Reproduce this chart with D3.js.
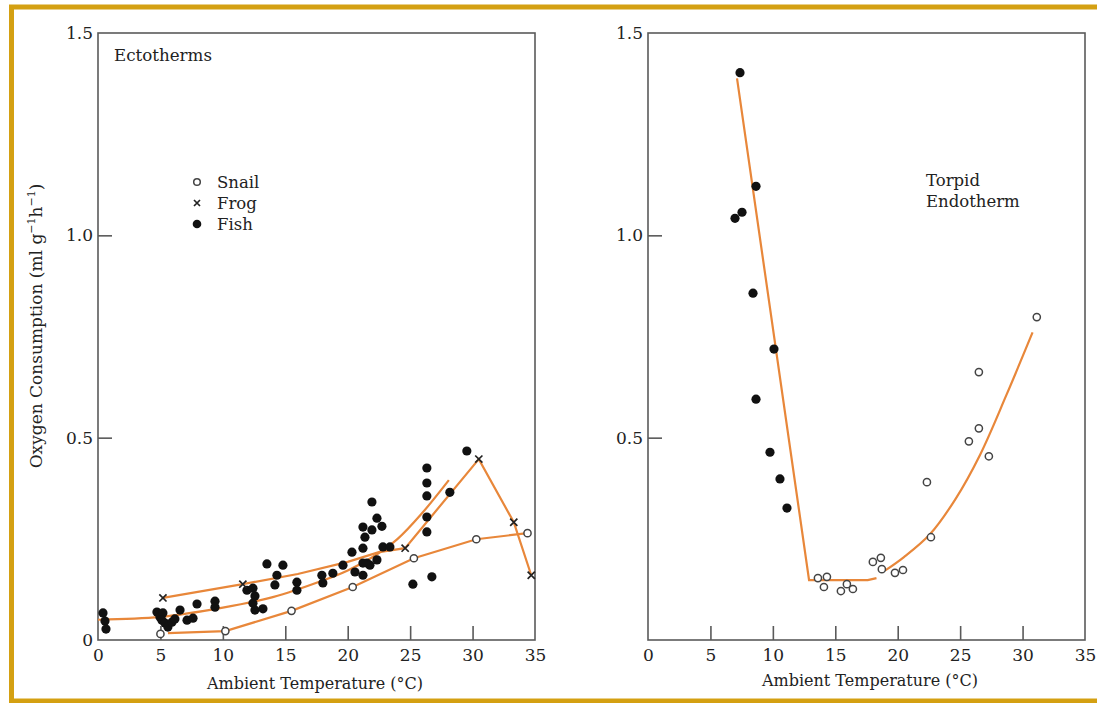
<!DOCTYPE html>
<html><head><meta charset="utf-8">
<script src="https://cdn.jsdelivr.net/npm/d3@7"></script>
<style>
html,body{margin:0;padding:0;background:#fff;}
svg{display:block;}
text{font-family:"DejaVu Serif","Liberation Serif",serif;fill:#222;}
</style></head>
<body>
<svg id="c" width="1097" height="703"></svg>
<script>
// ---------- data ----------
const xTicks = [0,5,10,15,20,25,30,35];
const yTicksLeft = [0,0.5,1.0,1.5];
const yTicksRight = [0.5,1.0,1.5];

// Left panel (ectotherms): [temperature, O2 consumption]
const snail = [[5.0,0.015],[10.2,0.022],[15.5,0.072],[20.4,0.131],[25.3,0.202],[30.3,0.249],[34.4,0.264]];
const frog  = [[5.2,0.104],[11.6,0.138],[24.6,0.227],[30.5,0.447],[33.3,0.291],[34.7,0.160]];
const fish  = [[0.4,0.067],[0.56,0.047],[0.64,0.027],[4.72,0.069],[4.96,0.057],[5.2,0.067],[5.12,0.049],
  [5.36,0.042],[5.6,0.032],[5.92,0.044],[6.16,0.052],[6.57,0.074],[7.13,0.049],[7.61,0.054],[7.93,0.089],
  [9.37,0.096],[9.37,0.081],[11.93,0.123],[12.41,0.128],[12.57,0.109],[12.41,0.091],[12.57,0.074],[13.21,0.077],
  [13.53,0.188],[14.81,0.185],[14.33,0.160],[14.17,0.136],[15.93,0.143],[15.93,0.123],[17.93,0.160],[18.01,0.141],
  [18.81,0.165],[19.62,0.185],[20.34,0.217],[21.22,0.227],[20.58,0.168],[21.22,0.160],[21.54,0.190],[21.78,0.185],
  [22.34,0.198],[21.94,0.341],[22.34,0.301],[22.74,0.281],[21.22,0.279],[21.38,0.254],[21.94,0.272],[22.82,0.230],
  [23.38,0.230],[21.22,0.190],[26.34,0.425],[26.34,0.388],[26.34,0.356],[26.34,0.304],[26.34,0.267],[26.74,0.156],
  [25.22,0.138],[29.54,0.467],[28.18,0.365]];
const snailLine = [[5.6,0.017],[10.2,0.022],[15.5,0.072],[20.4,0.131],[25.3,0.202],[30.3,0.249],[34.4,0.264]];
const frogLine  = [[5.2,0.104],[11.6,0.138],[16,0.163],[20,0.193],[22.5,0.217],[24.6,0.227],[30.5,0.447],[33.3,0.291],[34.7,0.160]];
const fishLine  = [[0,0.05],[5,0.057],[10,0.08],[14,0.106],[18,0.147],[20,0.172],[22,0.205],[24,0.25],[26,0.315],[28.1,0.395]];

// Right panel (torpid endotherm)
const torpidFilled = [[7.37,1.402],[8.65,1.121],[7.53,1.057],[6.97,1.042],[8.41,0.857],[10.09,0.719],
  [8.65,0.595],[9.77,0.464],[10.57,0.398],[11.13,0.326]];
const torpidOpen = [[13.61,0.153],[14.33,0.156],[14.09,0.131],[15.45,0.121],[15.93,0.138],[16.41,0.126],
  [18.01,0.193],[18.65,0.203],[18.73,0.175],[19.78,0.166],[20.42,0.173],[22.66,0.254],[22.34,0.390],
  [25.70,0.491],[26.50,0.523],[27.30,0.454],[26.50,0.662],[31.14,0.798]];
const torpidLineA = [[7.13,1.388],[12.9,0.148],[17.6,0.148],[18.3,0.153]];
const torpidLineB = [[19.0,0.172],[20.5,0.205],[22.6,0.262],[24.6,0.347],[26.6,0.458],[28.7,0.605],[30.8,0.76]];

// ---------- drawing ----------
const svg = d3.select("#c");
const ORANGE = "#e8873a";
const FRAME = "#5a5a5a";

// gold frame
svg.append("rect").attr("x",11.5).attr("y",7).attr("width",1100).attr("height",694)
  .attr("fill","none").attr("stroke","#d4a012").attr("stroke-width",5);

const y = d3.scaleLinear().domain([0,1.5]).range([640,33]);
const xL = d3.scaleLinear().domain([0,35]).range([98,535]);
const xR = d3.scaleLinear().domain([0,35]).range([648,1085]);
const fmt = d => d===0 ? "0" : d.toFixed(1);

function panel(x, yTicks){
  const g = svg.append("g");
  g.append("rect").attr("x",x(0)).attr("y",y(1.5)).attr("width",x(35)-x(0)).attr("height",y(0)-y(1.5))
    .attr("fill","none").attr("stroke",FRAME).attr("stroke-width",1.6);
  const ax = g.append("g").attr("transform",`translate(0,${y(0)})`)
    .call(d3.axisBottom(x).tickValues(xTicks).tickSizeInner(-14).tickSizeOuter(0).tickPadding(9).tickFormat(d3.format("d")));
  ax.select(".domain").remove();
  ax.selectAll(".tick line").attr("stroke",FRAME).attr("stroke-width",1.6)
    .filter(d=>d===0||d===35).remove();
  const ay = g.append("g").attr("transform",`translate(${x(0)},0)`)
    .call(d3.axisLeft(y).tickValues(yTicks).tickSizeInner(-14).tickSizeOuter(0).tickPadding(5).tickFormat(fmt));
  ay.select(".domain").remove();
  ay.selectAll(".tick line").attr("stroke",FRAME).attr("stroke-width",1.6)
    .filter(d=>d===0||d===1.5).remove();
  g.selectAll(".tick text").style("font-family","DejaVu Serif, serif").style("font-size","17px").attr("fill","#333");
  return g;
}
const gL = panel(xL, yTicksLeft);
const gR = panel(xR, yTicksRight);

function drawLine(g, x, data, curve){
  g.append("path").datum(data)
    .attr("d", d3.line().x(d=>x(d[0])).y(d=>y(d[1])).curve(curve))
    .attr("fill","none").attr("stroke",ORANGE).attr("stroke-width",2.2);
}
drawLine(gL, xL, snailLine, d3.curveLinear);
drawLine(gL, xL, fishLine, d3.curveCatmullRom.alpha(0.5));
drawLine(gL, xL, frogLine, d3.curveLinear);
drawLine(gR, xR, torpidLineA, d3.curveLinear);
drawLine(gR, xR, torpidLineB, d3.curveCatmullRom.alpha(0.5));

function filled(g, x, data){
  g.append("g").selectAll("circle").data(data).join("circle")
    .attr("cx",d=>x(d[0])).attr("cy",d=>y(d[1])).attr("r",4.6).attr("fill","#111");
}
function open(g, x, data){
  g.append("g").selectAll("circle").data(data).join("circle")
    .attr("cx",d=>x(d[0])).attr("cy",d=>y(d[1])).attr("r",3.6).attr("fill","#fff")
    .attr("stroke","#444").attr("stroke-width",1.5);
}
function cross(g, x, data){
  const s = 3.6;
  g.append("g").selectAll("path").data(data).join("path")
    .attr("d",d=>{const cx=x(d[0]), cy=y(d[1]);
      return `M${cx-s},${cy-s}L${cx+s},${cy+s}M${cx-s},${cy+s}L${cx+s},${cy-s}`;})
    .attr("stroke","#222").attr("stroke-width",1.7);
}
filled(gL, xL, fish);
open(gL, xL, snail);
cross(gL, xL, frog);
filled(gR, xR, torpidFilled);
open(gR, xR, torpidOpen);

// legend
const lg = svg.append("g");
lg.append("circle").attr("cx",197).attr("cy",182).attr("r",3.3).attr("fill","#fff").attr("stroke","#444").attr("stroke-width",1.5);
lg.append("path").attr("d","M194,200L200,206M194,206L200,200").attr("stroke","#222").attr("stroke-width",1.7);
lg.append("circle").attr("cx",197).attr("cy",224).attr("r",4.3).attr("fill","#111");
const legendNames = ["Snail","Frog","Fish"];
lg.selectAll("text").data(legendNames).join("text")
  .attr("x",217).attr("y",(d,i)=>188+i*21).style("font-size","16.5px").text(d=>d);

// panel titles
svg.append("text").attr("x",114).attr("y",61).style("font-size","16.7px").text("Ectotherms");
svg.append("text").attr("x",926).attr("y",186).style("font-size","16.5px").text("Torpid");
svg.append("text").attr("x",926).attr("y",207).style("font-size","16.5px").text("Endotherm");

// axis titles
svg.append("text").attr("x",315).attr("y",689).attr("text-anchor","middle").style("font-size","16px").text("Ambient Temperature (°C)");
svg.append("text").attr("x",870).attr("y",686).attr("text-anchor","middle").style("font-size","16px").text("Ambient Temperature (°C)");
const yl = svg.append("text").attr("transform","translate(42,326) rotate(-90)").attr("text-anchor","middle").style("font-size","17px").attr("fill","#2f3a3a");
yl.append("tspan").text("Oxygen Consumption (ml g");
yl.append("tspan").attr("dy",-7).style("font-size","11px").text("−1");
yl.append("tspan").attr("dy",7).text("h");
yl.append("tspan").attr("dy",-7).style("font-size","11px").text("−1");
yl.append("tspan").attr("dy",7).text(")");
</script>
</body></html>
